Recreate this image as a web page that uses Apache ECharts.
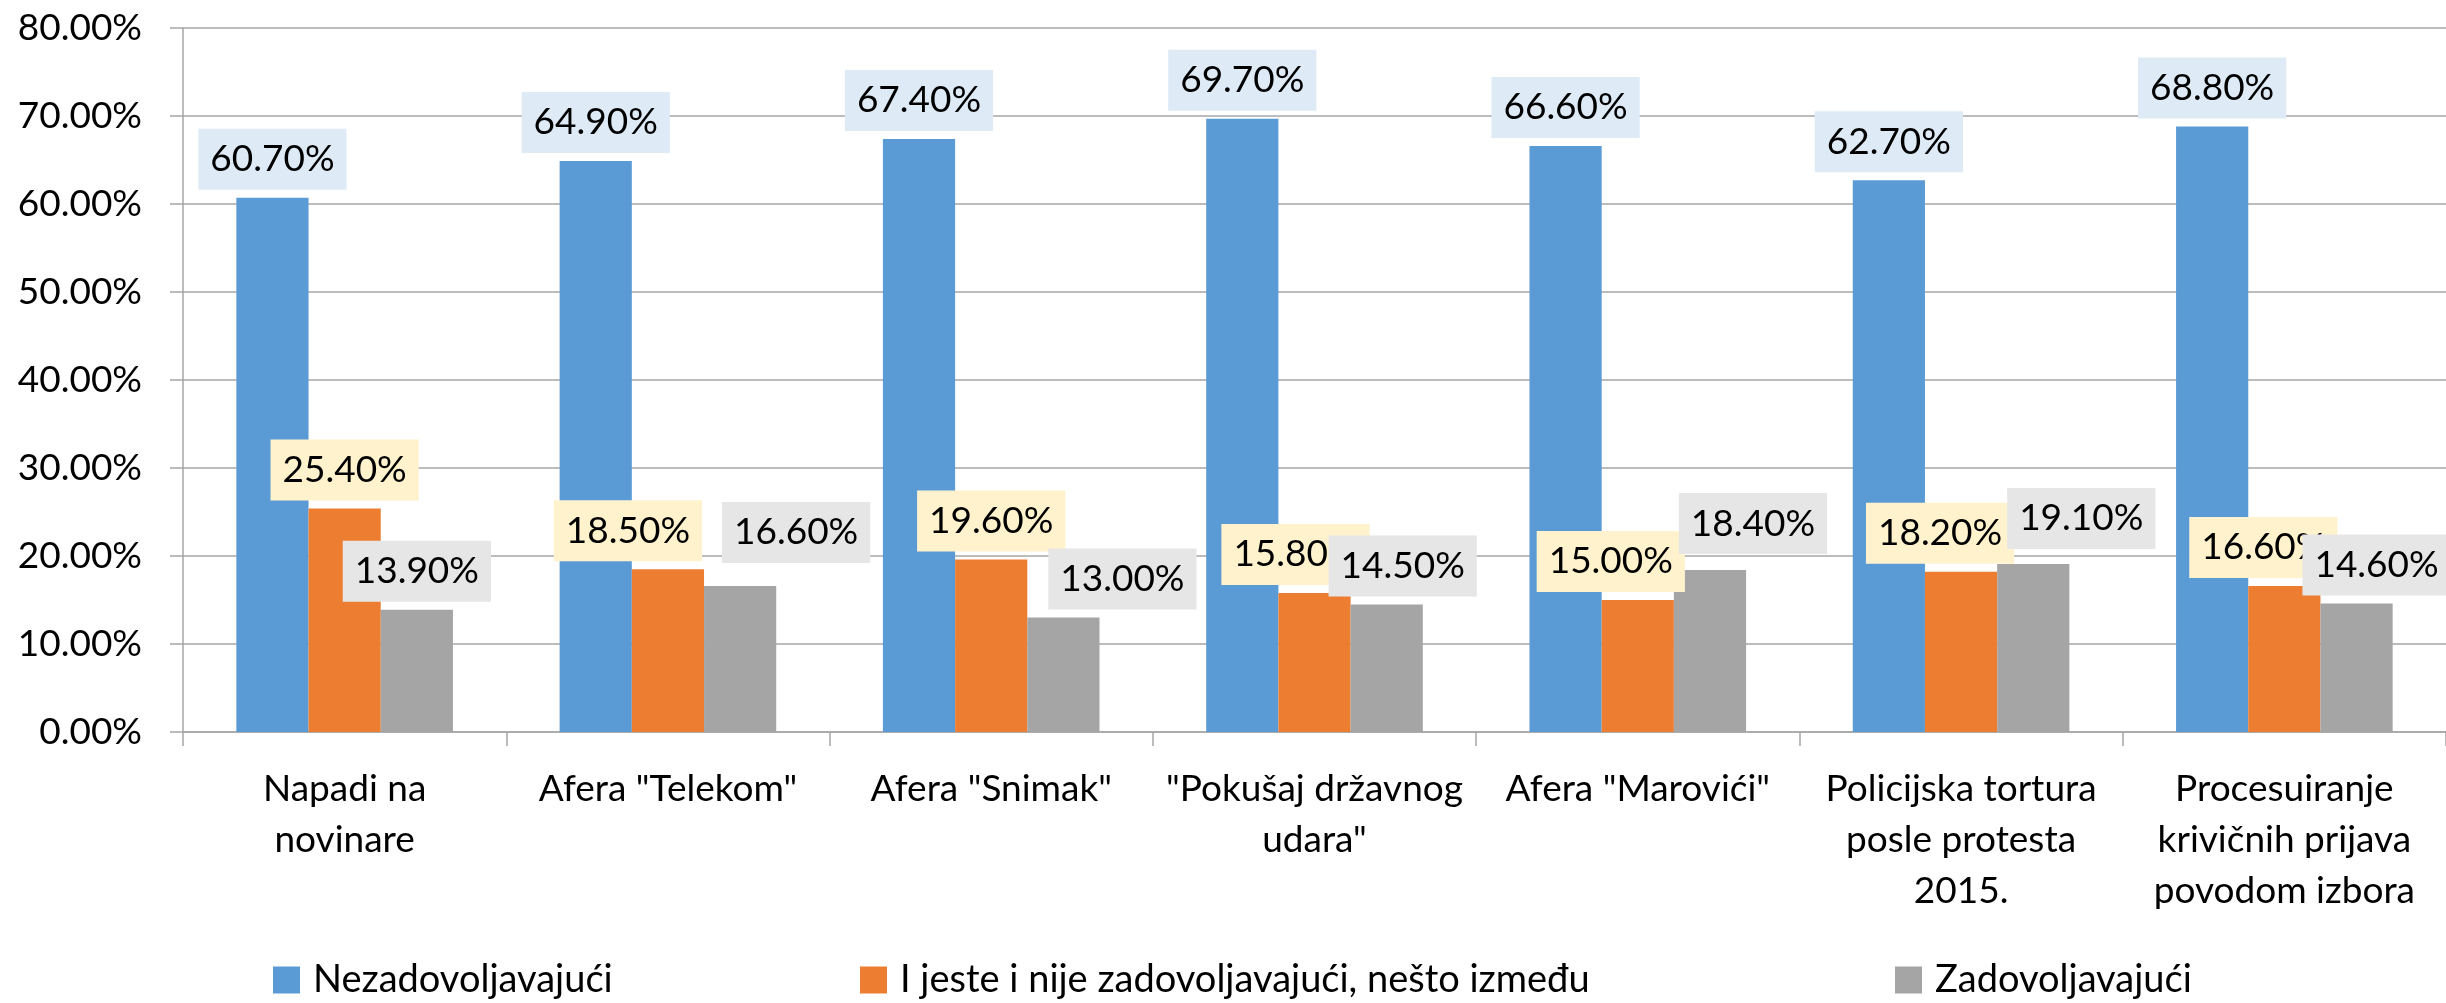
<!DOCTYPE html>
<html>
<head>
<meta charset="utf-8">
<script src="https://cdn.jsdelivr.net/npm/echarts@6/dist/echarts.min.js"></script>
<style>
  html, body { margin: 0; padding: 0; background: #fff; }
  #chart { width: 2446px; height: 1003px; }
</style>
</head>
<body>
<div id="chart"></div>
<script>
const categories = [
    'Napadi na\nnovinare',
    'Afera "Telekom"',
    'Afera "Snimak"',
    '"Pokušaj državnog\nudara"',
    'Afera "Marovići"',
    'Policijska tortura\nposle protesta\n2015.',
    'Procesuiranje\nkrivičnih prijava\npovodom izbora'
]
const seriesNames = [
    'Nezadovoljavajući',
    'I jeste i nije zadovoljavajući, nešto između',
    'Zadovoljavajući'
]
const nezadovoljavajuci = [60.7, 64.9, 67.4, 69.7, 66.6, 62.7, 68.8]
const izmedju = [25.4, 18.5, 19.6, 15.8, 15.0, 18.2, 16.6]
const zadovoljavajuci = [13.9, 16.6, 13.0, 14.5, 18.4, 19.1, 14.6]
const yTicks = [0, 10, 20, 30, 40, 50, 60, 70, 80]

const font = 'Lato'
const gridColor = '#A6A6A6'
const barColors = ['#5B9BD5', '#ED7D31', '#A5A5A5']
const labelBg = ['#DEEBF7', '#FFF2CC', '#E6E6E6']
const legendLeft = [268, 855, 1890]

// labels that were dragged aside in the original, [dx, dy] in px
const labelShift = [
    [[0, 0], [0, 0], [0, 0], [0, 0], [0, 0], [0, 0], [0, 0]],
    [[0, 0], [-40, 0], [0, 0], [-19, 0], [-27, 0], [-21, 0], [-21, 0]],
    [[0, 0], [56, -15], [59, 0], [16, 0], [43, -8], [48, -7], [20, 0]]
]

const chart = echarts.init(document.getElementById('chart'))

const pct = v => v.toFixed(2) + '%'

const makeSeries = (name, data, i) => ({
    name,
    type: 'bar',
    data: data.map((v, j) => ({ value: v, label: { offset: labelShift[i][j] } })),
    barGap: '0%',
    barCategoryGap: '33%',
    itemStyle: { color: barColors[i] },
    label: {
        show: true,
        position: 'top',
        distance: 8,
        formatter: p => pct(p.value),
        backgroundColor: labelBg[i],
        padding: [10, 12],
        fontFamily: font,
        fontSize: 37,
        lineHeight: 41,
        color: '#000'
    }
})

chart.setOption({
    animation: false,
    backgroundColor: '#fff',
    grid: { left: 183, right: -5, top: 28, bottom: 271 },
    legend: seriesNames.map((n, i) => ({
        data: [n],
        left: legendLeft[i],
        top: 956,
        icon: 'rect',
        itemWidth: 27,
        itemHeight: 27,
        textStyle: {
            fontFamily: font,
            fontSize: 38,
            color: '#000',
            padding: [0, 0, 0, 8]
        }
    })),
    xAxis: {
        type: 'category',
        data: categories,
        axisLine: { lineStyle: { color: gridColor, width: 1.5 } },
        axisTick: { show: true, length: 14, lineStyle: { color: gridColor, width: 1.5 } },
        axisLabel: {
            interval: 0,
            margin: 32,
            fontFamily: font,
            fontSize: 37,
            lineHeight: 51,
            color: '#000'
        }
    },
    yAxis: {
        type: 'value',
        min: yTicks[0],
        max: yTicks[yTicks.length - 1],
        interval: 10,
        axisLine: { show: true, lineStyle: { color: gridColor, width: 1.5 } },
        axisTick: { show: true, length: 13, lineStyle: { color: gridColor, width: 1.5 } },
        splitLine: { lineStyle: { color: gridColor, width: 1.5 } },
        axisLabel: {
            margin: 41,
            formatter: v => pct(v),
            fontFamily: font,
            fontSize: 37,
            color: '#000'
        }
    },
    series: [
        makeSeries(seriesNames[0], nezadovoljavajuci, 0),
        makeSeries(seriesNames[1], izmedju, 1),
        makeSeries(seriesNames[2], zadovoljavajuci, 2)
    ]
})
</script>
</body>
</html>
